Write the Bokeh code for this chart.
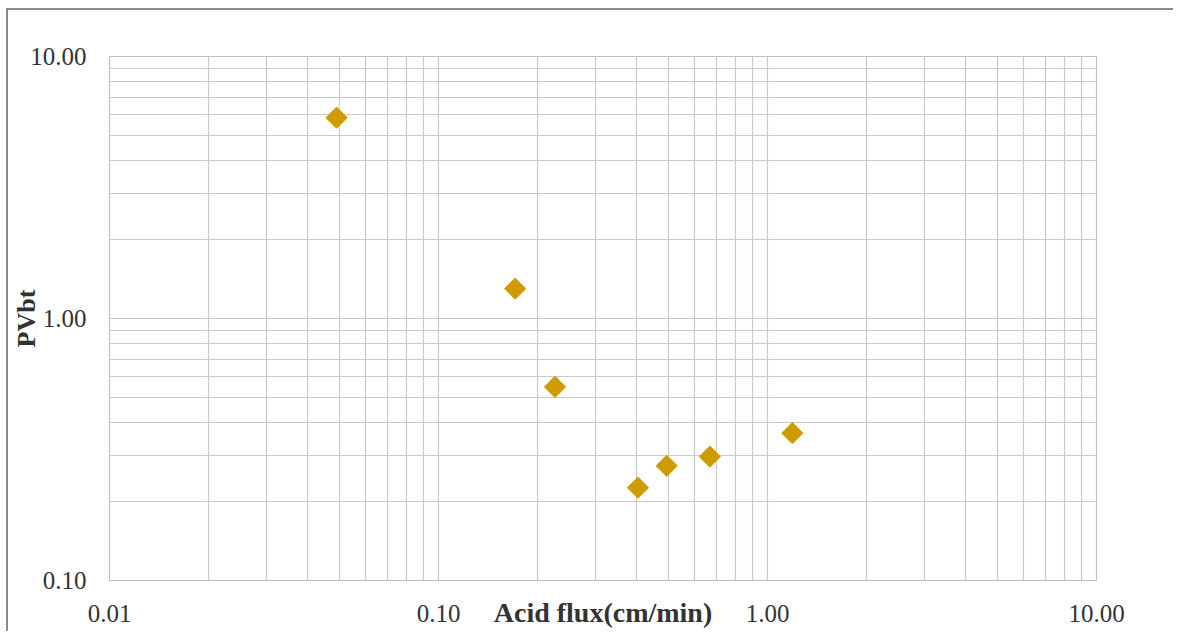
from bokeh.plotting import figure
from bokeh.models import Range1d, FixedTicker, CustomJSTickFormatter, InlineStyleSheet
from bokeh.embed import file_html
from bokeh.resources import INLINE

# data
acid_flux = [0.049, 0.171, 0.226, 0.404, 0.494, 0.668, 1.19]
pvbt = [5.84, 1.30, 0.548, 0.226, 0.274, 0.297, 0.365]
x_ticks = [0.01, 0.1, 1.0, 10.0]
y_ticks = [0.1, 1.0, 10.0]
x_title = "Acid flux(cm/min)"
y_title = "PVbt"

def minor_list(decades):
    out = []
    for d in decades[:-1]:
        for m in range(2, 10):
            out.append(m * d)
    return out

FONT = "Liberation Serif"
GRID = "#cacaca"

p = figure(width=1173, height=631, output_backend="svg", toolbar_location=None,
           x_axis_type="log", y_axis_type="log",
           x_range=Range1d(0.01, 10), y_range=Range1d(0.1, 10),
           min_border_left=109, min_border_right=77, min_border_top=56, min_border_bottom=51)

# outer chart-area border (only top and left edges are visible in the reference)
css = (":host { position: relative; }"
       ":host::after { content: ''; position: absolute; left: 6px; top: 8px; right: 0; bottom: 0;"
       " border-top: 2px solid #8c8c8c; border-left: 2px solid #8c8c8c;"
       " pointer-events: none; z-index: 10; }")
p.stylesheets = [InlineStyleSheet(css=css)]

p.scatter(acid_flux, pvbt, marker="square", size=15, angle=0.785398,
          fill_color="#cf9b00", line_color="#cf9b00")

p.xaxis.ticker = FixedTicker(ticks=x_ticks, minor_ticks=minor_list(x_ticks))
p.yaxis.ticker = FixedTicker(ticks=y_ticks, minor_ticks=minor_list(y_ticks))
p.xaxis.formatter = CustomJSTickFormatter(code="return tick.toFixed(2);")
p.yaxis.formatter = CustomJSTickFormatter(code="return tick.toFixed(2);")

for ax in (p.xaxis[0], p.yaxis[0]):
    ax.axis_line_color = None
    ax.major_tick_line_color = None
    ax.minor_tick_line_color = None
    ax.major_label_text_font = FONT
    ax.major_label_text_font_size = "25px"
    ax.major_label_text_color = "#333333"
    ax.axis_label_text_font = FONT
    ax.axis_label_text_font_style = "bold"
    ax.axis_label_text_color = "#333333"

p.xaxis.axis_label = x_title
p.yaxis.axis_label = y_title
p.xaxis.axis_label_text_font_size = "28px"
p.yaxis.axis_label_text_font_size = "26px"
p.xaxis.major_label_standoff = 18
p.xaxis.axis_label_standoff = -28
p.yaxis.major_label_standoff = 17
p.yaxis.axis_label_standoff = -14

for g in (p.xgrid[0], p.ygrid[0]):
    g.grid_line_color = GRID
    g.grid_line_width = 1.2
    g.minor_grid_line_color = GRID
    g.minor_grid_line_width = 1.2

p.outline_line_color = "#c0c0c0"
p.outline_line_width = 1.2
p.background_fill_color = "white"
p.border_fill_color = "white"

open("out.html", "w").write(file_html(p, INLINE))
